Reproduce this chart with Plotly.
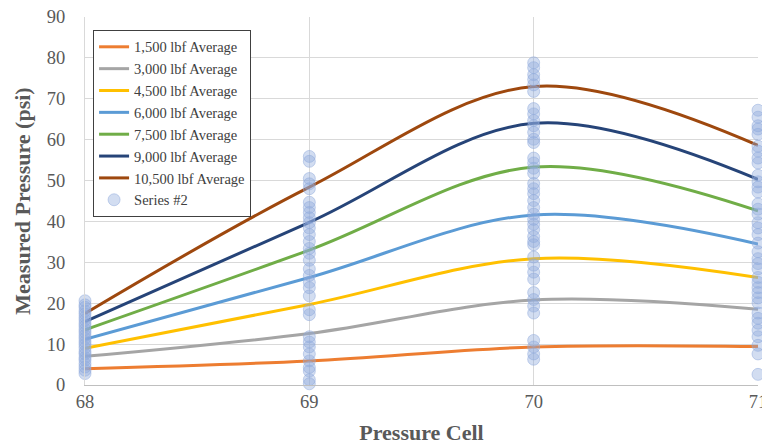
import plotly.graph_objects as go

cells = [68, 69, 70, 71]
series_names = ["1,500 lbf Average", "3,000 lbf Average", "4,500 lbf Average",
                "6,000 lbf Average", "7,500 lbf Average", "9,000 lbf Average",
                "10,500 lbf Average"]
avg_1500 = [4.0, 5.9, 9.3, 9.4]
avg_3000 = [7.0, 12.6, 20.8, 18.5]
avg_4500 = [9.0, 19.7, 30.9, 26.3]
avg_6000 = [11.2, 26.3, 41.6, 34.5]
avg_7500 = [13.5, 33.0, 53.3, 42.6]
avg_9000 = [15.5, 39.8, 64.0, 50.3]
avg_10500 = [17.5, 48.4, 73.0, 58.6]
line_colors = ["#ED7D31", "#A5A5A5", "#FFC000", "#5B9BD5", "#70AD47", "#264478", "#9E480E"]

pts_68 = [2.8, 3.6, 4.4, 5.2, 6.1, 6.7, 7.6, 8.2, 9.1, 9.9, 10.6, 11.4, 12.1, 12.9,
          13.6, 14.4, 15.1, 15.9, 16.6, 17.4, 18.1, 19.0, 19.6, 20.6]
pts_69 = [55.9, 54.7, 50.5, 49.2, 48.0, 44.7, 43.4, 42.2, 40.9, 39.7, 38.4, 36.8,
          35.1, 33.4, 32.2, 30.5, 28.4, 26.8, 25.1, 23.8, 21.8, 18.4, 17.2, 11.8,
          10.5, 9.3, 7.6, 5.9, 4.3, 3.4, 1.3, 0.3]
pts_70 = [78.8, 77.6, 75.9, 74.7, 73.4, 71.8, 67.6, 66.3, 64.7, 63.4, 61.8, 60.1,
          59.3, 55.5, 54.3, 53.0, 51.8, 49.3, 48.0, 46.8, 45.1, 43.4, 41.8, 40.5,
          39.3, 38.0, 36.3, 35.1, 34.3, 31.3, 29.3, 27.6, 25.9, 22.6, 20.9, 19.3,
          17.6, 10.9, 9.3, 7.6, 6.3]
pts_71 = [67.2, 65.5, 63.4, 62.6, 61.3, 58.4, 57.2, 55.5, 54.3, 51.3, 49.7, 48.4,
          47.2, 44.3, 43.0, 41.8, 39.7, 38.4, 36.8, 34.7, 32.6, 30.9, 29.7, 28.4,
          26.3, 25.1, 23.8, 22.6, 21.3, 20.1, 17.6, 16.3, 15.1, 13.4, 11.8, 9.7,
          7.6, 2.6]

averages = [avg_1500, avg_3000, avg_4500, avg_6000, avg_7500, avg_9000, avg_10500]

fig = go.Figure()
for name, vals, col in zip(series_names, averages, line_colors):
    fig.add_trace(go.Scatter(x=cells, y=vals, name=name, mode="lines",
                             line=dict(color=col, width=3, shape="spline", smoothing=1)))

sx, sy = [], []
for c, pts in zip(cells, [pts_68, pts_69, pts_70, pts_71]):
    sx += [c] * len(pts)
    sy += pts
fig.add_trace(go.Scatter(x=sx, y=sy, name="Series #2", mode="markers",
                         cliponaxis=False,
                         marker=dict(size=12, color="rgba(143,170,220,0.4)",
                                     line=dict(color="rgba(143,170,220,0.5)", width=1))))

serif = "Liberation Serif"
tickfont = dict(family=serif, size=18.5, color="#595959")
fig.update_layout(
    width=762, height=437,
    margin=dict(l=77, r=12, t=9, b=60),
    paper_bgcolor="white", plot_bgcolor="white",
    font=dict(family=serif, color="#595959", size=16),
    showlegend=True,
    legend=dict(x=0.012, y=0.965, xanchor="left", yanchor="top",
                bgcolor="white", bordercolor="#404040", borderwidth=1,
                font=dict(family=serif, size=14.5, color="#404040"),
                tracegroupgap=0, itemwidth=30),
    xaxis=dict(range=[68, 71], tickvals=cells, ticktext=[str(c) for c in cells],
               tickfont=tickfont, automargin=False, ticklabeloverflow="allow",
               showgrid=True, gridcolor="#D9D9D9", gridwidth=1,
               showline=True, linecolor="#BFBFBF", linewidth=1, mirror=False,
               zeroline=False, ticks="", ticklabelstandoff=0,
               title=dict(text="<b>Pressure Cell</b>", font=dict(family=serif, size=22, color="#595959"),
                          standoff=23)),
    yaxis=dict(range=[0, 90], dtick=10, tickfont=tickfont, automargin=False,
               ticklabeloverflow="allow",
               showgrid=True, gridcolor="#D9D9D9", gridwidth=1,
               showline=True, linecolor="#D9D9D9", zeroline=False, ticks="",
               ticklabelstandoff=15,
               title=dict(text="<b>Measured Pressure (psi)</b>", font=dict(family=serif, size=22, color="#595959"),
                          standoff=10)),
)
fig.write_html("out.html")
